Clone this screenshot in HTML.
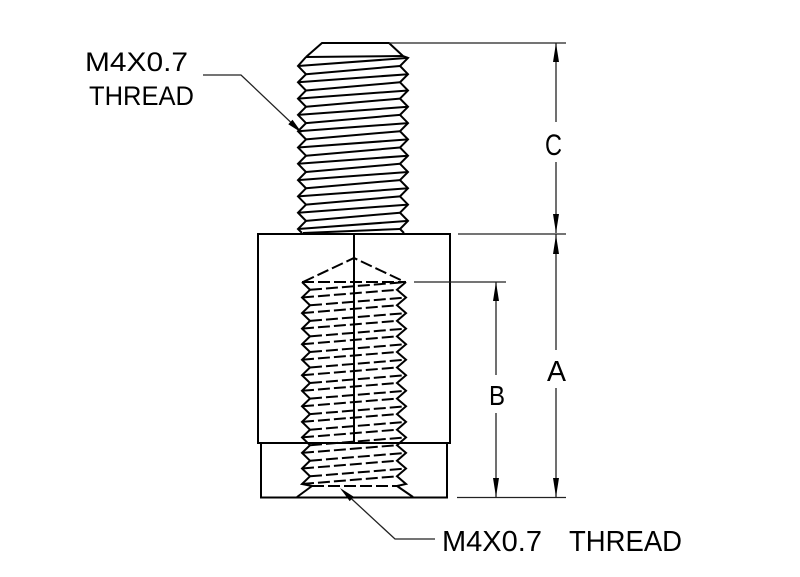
<!DOCTYPE html>
<html>
<head>
<meta charset="utf-8">
<style>
html,body{margin:0;padding:0;background:#fff;}
svg{display:block;}
text{font-family:"Liberation Sans",sans-serif;fill:#000;}
</style>
</head>
<body>
<svg width="800" height="577" viewBox="0 0 800 577" xmlns="http://www.w3.org/2000/svg">
<rect width="800" height="577" fill="#fff"/>

<!-- ===== Male thread ===== -->
<g stroke="#000" stroke-width="2" fill="none" stroke-linejoin="miter">
  <!-- chamfer -->
  <path d="M306,57 L322,43 L389,43 L403,56"/>
  <line x1="306" y1="57" x2="403" y2="56"/>
  <!-- left zigzag -->
  <path d="M306,57 L298,66 L306,74.2 L298,82.3 L306,90.5 L298,98.6 L306,106.8 L298,114.9 L306,123.1 L298,131.2 L306,139.4 L298,147.5 L306,155.7 L298,163.8 L306,172 L298,180.1 L306,188.3 L298,196.4 L306,204.6 L298,212.7 L306,220.9 L298,229 L302,233"/>
  <!-- right zigzag -->
  <path d="M403,56 L408,57.9 L400,66 L408,74.2 L400,82.3 L408,90.5 L400,98.6 L408,106.8 L400,114.9 L408,123.1 L400,131.2 L408,139.4 L400,147.5 L408,155.7 L400,163.8 L408,172 L400,180.1 L408,188.3 L400,196.4 L408,204.6 L400,212.7 L408,220.9 L400,229 L404,233"/>
  <!-- crest lines -->
  <line x1="298" y1="66" x2="408" y2="57.9"/>
  <line x1="298" y1="82.3" x2="408" y2="74.2"/>
  <line x1="298" y1="98.6" x2="408" y2="90.5"/>
  <line x1="298" y1="114.9" x2="408" y2="106.8"/>
  <line x1="298" y1="131.2" x2="408" y2="123.1"/>
  <line x1="298" y1="147.5" x2="408" y2="139.4"/>
  <line x1="298" y1="163.8" x2="408" y2="155.7"/>
  <line x1="298" y1="180.1" x2="408" y2="172"/>
  <line x1="298" y1="196.4" x2="408" y2="188.3"/>
  <line x1="298" y1="212.7" x2="408" y2="204.6"/>
  <line x1="298" y1="229" x2="408" y2="220.9"/>
  <!-- root lines -->
  <line x1="306" y1="74.2" x2="400" y2="66"/>
  <line x1="306" y1="90.5" x2="400" y2="82.3"/>
  <line x1="306" y1="106.8" x2="400" y2="98.6"/>
  <line x1="306" y1="123.1" x2="400" y2="114.9"/>
  <line x1="306" y1="139.4" x2="400" y2="131.2"/>
  <line x1="306" y1="155.7" x2="400" y2="147.5"/>
  <line x1="306" y1="172" x2="400" y2="163.8"/>
  <line x1="306" y1="188.3" x2="400" y2="180.1"/>
  <line x1="306" y1="204.6" x2="400" y2="196.4"/>
  <line x1="306" y1="220.9" x2="400" y2="212.7"/>
  <line x1="303" y1="233" x2="400" y2="229"/>
</g>

<!-- ===== Body ===== -->
<g stroke="#000" stroke-width="2" fill="none">
  <rect x="258" y="234" width="192" height="209"/>
  <path d="M261,443 L261,497.5 L447,497.5 L447,443"/>
  <line x1="354" y1="234" x2="354" y2="443"/>
</g>

<!-- ===== Female thread ===== -->
<g stroke="#000" stroke-width="2" fill="none">
  <path d="M302,282 L310,289.8 L302,297.5 L310,305.3 L302,313.1 L310,320.9 L302,328.6 L310,336.4 L302,344.2 L310,352 L302,359.7 L310,367.5 L302,375.2 L310,383 L302,390.8 L310,398.6 L302,406.3 L310,414.1 L302,421.9 L310,429.7 L302,437.4 L310,445.2 L302,452.9 L310,460.7 L302,468.5 L310,476.3 L302,484 L312,486"/>
  <path d="M406,282 L397,289.8 L406,297.5 L397,305.3 L406,313.1 L397,320.9 L406,328.6 L397,336.4 L406,344.2 L397,352 L406,359.7 L397,367.5 L406,375.2 L397,383 L406,390.8 L397,398.6 L406,406.3 L397,414.1 L406,421.9 L397,429.7 L406,437.4 L397,445.2 L406,452.9 L397,460.7 L406,468.5 L397,476.3 L406,484 L397,486"/>
  <!-- bottom chamfer -->
  <line x1="312" y1="486" x2="297" y2="497"/>
  <line x1="397" y1="486" x2="413" y2="497"/>
</g>
<g stroke="#000" stroke-width="2" fill="none" stroke-dasharray="12 4">
  <!-- cone -->
  <path d="M303,282 L354,258 L405,282"/>
  <line x1="302" y1="282" x2="406" y2="282"/>
  <!-- type A: left root -> right crest -->
  <line x1="310" y1="289.8" x2="406" y2="282"/>
  <line x1="310" y1="305.3" x2="406" y2="297.5"/>
  <line x1="310" y1="320.9" x2="406" y2="313.1"/>
  <line x1="310" y1="336.4" x2="406" y2="328.6"/>
  <line x1="310" y1="352" x2="406" y2="344.2"/>
  <line x1="310" y1="367.5" x2="406" y2="359.7"/>
  <line x1="310" y1="383" x2="406" y2="375.2"/>
  <line x1="310" y1="398.6" x2="406" y2="390.8"/>
  <line x1="310" y1="414.1" x2="406" y2="406.3"/>
  <line x1="310" y1="429.7" x2="406" y2="421.9"/>
  <line x1="310" y1="445.2" x2="406" y2="437.4"/>
  <line x1="310" y1="460.7" x2="406" y2="452.9"/>
  <line x1="310" y1="476.3" x2="406" y2="468.5"/>
  <!-- type B: left crest -> right root -->
  <line x1="302" y1="297.5" x2="397" y2="289.8"/>
  <line x1="302" y1="313.1" x2="397" y2="305.3"/>
  <line x1="302" y1="328.6" x2="397" y2="320.9"/>
  <line x1="302" y1="344.2" x2="397" y2="336.4"/>
  <line x1="302" y1="359.7" x2="397" y2="352"/>
  <line x1="302" y1="375.2" x2="397" y2="367.5"/>
  <line x1="302" y1="390.8" x2="397" y2="383"/>
  <line x1="302" y1="406.3" x2="397" y2="398.6"/>
  <line x1="302" y1="421.9" x2="397" y2="414.1"/>
  <line x1="302" y1="437.4" x2="397" y2="429.7"/>
  <line x1="302" y1="452.9" x2="397" y2="445.2"/>
  <line x1="302" y1="468.5" x2="397" y2="460.7"/>
  <line x1="302" y1="484" x2="397" y2="476.3"/>
  <line x1="312" y1="486" x2="397" y2="486"/>
</g>

<!-- ===== Extension & dimension lines ===== -->
<g stroke="#222" stroke-width="1.3" fill="none">
  <line x1="389" y1="43" x2="566" y2="43"/>
  <line x1="458" y1="234" x2="566" y2="234"/>
  <line x1="414" y1="282" x2="506" y2="282"/>
  <line x1="457" y1="497.5" x2="566" y2="497.5"/>
  <!-- C -->
  <line x1="556" y1="43" x2="556" y2="122"/>
  <line x1="556" y1="162" x2="556" y2="233"/>
  <!-- A -->
  <line x1="556" y1="234" x2="556" y2="350"/>
  <line x1="556" y1="388" x2="556" y2="497"/>
  <!-- B -->
  <line x1="496" y1="282" x2="496" y2="375"/>
  <line x1="496" y1="413" x2="496" y2="497"/>
  <!-- leaders -->
  <polyline points="203,75 241,75 300,131"/>
  <polyline points="435,539 395,539 342,490"/>
</g>
<g fill="#000" stroke="none">
  <!-- C arrows -->
  <polygon points="556,43 553,62 559,62"/>
  <polygon points="556,233 553,214 559,214"/>
  <!-- A arrows -->
  <polygon points="556,235 553,254 559,254"/>
  <polygon points="556,497 553,478 559,478"/>
  <!-- B arrows -->
  <polygon points="496,282 493,301 499,301"/>
  <polygon points="496,497 493,478 499,478"/>
  <!-- leader arrows -->
  <polygon points="302,133 288.3,124.2 292.5,119.8"/>
  <polygon points="340,488 353.8,496.7 349.7,501.1"/>
</g>

<!-- ===== Text ===== -->
<text x="85" y="71" font-size="27" textLength="103" lengthAdjust="spacingAndGlyphs">M4X0.7</text>
<text x="89" y="105" font-size="27" textLength="105" lengthAdjust="spacingAndGlyphs">THREAD</text>
<text x="442" y="551" font-size="29" textLength="100" lengthAdjust="spacingAndGlyphs">M4X0.7</text>
<text x="569" y="551" font-size="29" textLength="113" lengthAdjust="spacingAndGlyphs">THREAD</text>
<text x="545" y="155" font-size="30" textLength="17" lengthAdjust="spacingAndGlyphs">C</text>
<text x="547" y="381" font-size="29" textLength="19" lengthAdjust="spacingAndGlyphs">A</text>
<text x="489" y="405" font-size="28" textLength="16" lengthAdjust="spacingAndGlyphs">B</text>
</svg>
</body>
</html>
